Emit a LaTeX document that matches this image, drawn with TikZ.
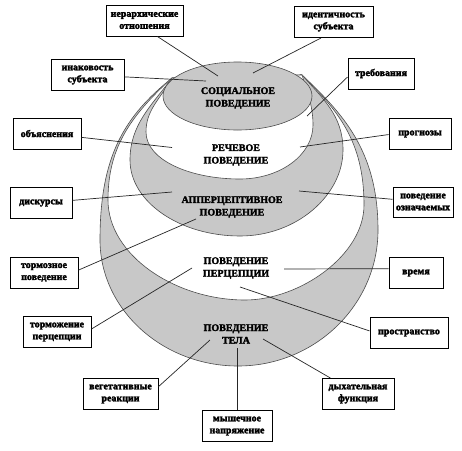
\documentclass[tikz,border=0pt]{standalone}
\usepackage{fontspec}
\setmainfont{Liberation Serif}[BoldFeatures={FakeBold=2.5}]
\definecolor{g}{RGB}{200,200,200}
\begin{document}
\begin{tikzpicture}[x=1pt,y=-1pt,
  box/.style={draw=black, line width=1pt, fill=white, align=center, inner sep=0pt,
    minimum height=31pt, font=\fontsize{10}{12}\selectfont\bfseries},
  etxt/.style={align=center, inner sep=0pt, font=\fontsize{10}{12.5}\selectfont\bfseries},
  conn/.style={draw=black!85, line width=0.7pt},
  shp/.style={draw=black!70, line width=0.6pt}]
\useasboundingbox (0,0) rectangle (462,450);
\fill[white] (0,0) rectangle (462,450);
\coordinate (L) at (172,78);
\coordinate (R) at (302,75);
% body
\filldraw[shp, fill=g] (L) .. controls (125,116) and (100,155) .. (100,240)
  .. controls (100,309) and (162,366) .. (238,366)
  .. controls (315,366) and (378,305) .. (378,230)
  .. controls (378,150) and (342,113) .. (R) -- cycle;
% perception
\filldraw[shp, fill=white] (L) .. controls (128,118) and (108,150) .. (108,200)
  .. controls (108,255) and (175,300) .. (245,300)
  .. controls (300,300) and (364,255) .. (364,205)
  .. controls (364,140) and (337,110) .. (R) -- cycle;
% apperceptive
\filldraw[shp, fill=g] (L) .. controls (151,106) and (130,125) .. (130,160)
  .. controls (130,202) and (180,236) .. (240,236)
  .. controls (297,236) and (343,195) .. (343,150)
  .. controls (343,115) and (322,98) .. (R) -- cycle;
% speech
\filldraw[shp, fill=white] (L) .. controls (159.5,100) and (146,110) .. (146,132)
  .. controls (146,160) and (190,179) .. (240,179)
  .. controls (280,179) and (313,155) .. (313,125)
  .. controls (313,105) and (306.5,89) .. (R) -- cycle;
% social
\filldraw[shp, fill=g] (237.5,96) ellipse (74.5 and 34);

% texts in ellipses
\node[etxt] (soc) at (238,98) {СОЦИАЛЬНОЕ\\ПОВЕДЕНИЕ};
\node[etxt] (rech) at (236,155) {РЕЧЕВОЕ\\ПОВЕДЕНИЕ};
\node[etxt] (app) at (232,207) {АППЕРЦЕПТИВНОЕ\\ПОВЕДЕНИЕ};
\node[etxt] (perc) at (236,268) {ПОВЕДЕНИЕ\\ПЕРЦЕПЦИИ};
\node[etxt] (tel) at (236,334) {ПОВЕДЕНИЕ\\ТЕЛА};

% boxes
\node[box, minimum width=77pt] (b1) at (144.5,20.5) {иерархические\\отношения};
\node[box, minimum width=79pt] (b2) at (333.5,22) {идентичность\\субъекта};
\node[box, minimum width=73pt] (b3) at (87.5,75) {инаковость\\субъекта};
\node[box, minimum width=66pt] (b4) at (381,73.5) {требования};
\node[box, minimum width=68pt] (b5) at (47,133.5) {объяснения};
\node[box, minimum width=62pt] (b6) at (420,134) {прогнозы};
\node[box, minimum width=62pt] (b7) at (41,203) {дискурсы};
\node[box, minimum width=60pt, minimum height=30pt] (b8) at (423,202) {поведение\\означаемых};
\node[box, minimum width=68pt] (b9) at (44,272.5) {тормозное\\поведение};
\node[box, minimum width=54pt] (b10) at (416,273) {время};
\node[box, minimum width=68pt] (b11) at (57,332) {торможение\\перцепции};
\node[box, minimum width=78pt] (b12) at (409,333) {пространство};
\node[box, minimum width=75pt] (b13) at (120.5,394) {вегетативные\\реакции};
\node[box, minimum width=72pt] (b14) at (358,394) {дыхательная\\функция};
\node[box, minimum width=70pt] (b15) at (237,426) {мышечное\\напряжение};

% connector ends
\coordinate (e1) at (218,76);
\coordinate (e2) at (253,73);
\coordinate (e3) at (206,81);
\coordinate (e4) at (307,116);
\coordinate (e5) at (172,147.5);
\coordinate (e6) at (300,147);
\coordinate (e7) at (172,192);
\coordinate (e8) at (299,191);
\coordinate (e9) at (196,219);
\coordinate (e10) at (284,269);
\coordinate (e11) at (192,268);
\coordinate (e12) at (240,287);
\coordinate (e13) at (210,340);
\coordinate (e14) at (263,339);
\coordinate (e15) at (237,348);

\draw[conn] (b1.309) -- (e1);
\draw[conn] (b2.232) -- (e2);
\draw[conn] (b3) -- (e3);
\draw[conn] (b4.186) -- (e4);
\draw[conn] (b5) -- (e5);
\draw[conn] (b6.181) -- (e6);
\draw[conn] (b7) -- (e7);
\draw[conn] (b8) -- (e8);
\draw[conn] (b9.4) -- (e9);
\draw[conn] (b10.171) -- (e10);
\draw[conn] (b11.5) -- (e11);
\draw[conn] (b12.177) -- (e12);
\draw[conn] (b13.11) -- (e13);
\draw[conn] (b14) -- (e14);
\draw[conn] (b15) -- (e15);
\end{tikzpicture}
\end{document}
